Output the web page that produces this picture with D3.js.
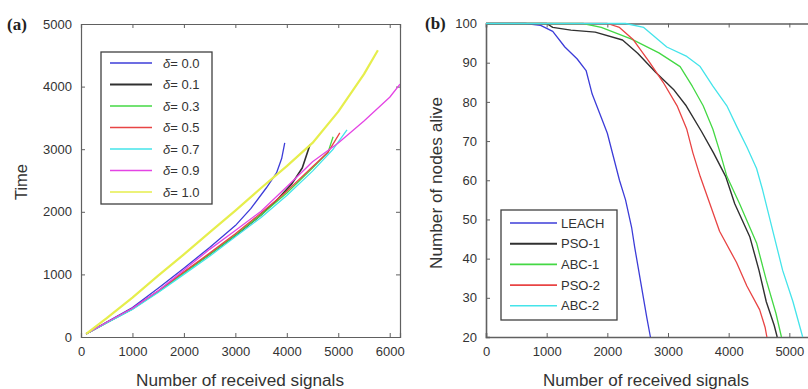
<!DOCTYPE html>
<html><head><meta charset="utf-8">
<script src="https://cdn.jsdelivr.net/npm/d3@7"></script>
<style>
body{margin:0;background:#fff;}
svg{display:block;font-family:"Liberation Sans",Arial,sans-serif;}
</style></head>
<body><svg id="c" width="808" height="389"></svg>
<script>
// ---------- Panel (a) data: Time vs number of received signals ----------
const deltaLabels = ["0.0", "0.1", "0.3", "0.5", "0.7", "0.9", "1.0"];
const deltaColors = ["#3c3cd8", "#303030", "#44d844", "#e84444", "#44e4ea", "#e444e4", "#e6ee4c"];
const d00 = [[100,50],[500,240],[1000,470],[1500,780],[2000,1100],[2500,1430],[3000,1780],[3300,2050],[3600,2380],[3800,2620],[3900,2850],[3960,3100]];
const d01 = [[100,50],[500,230],[1000,450],[1500,730],[2000,1030],[2500,1320],[3000,1620],[3500,1950],[3800,2180],[4100,2450],[4300,2700],[4450,3070]];
const d03 = [[100,50],[500,230],[1000,450],[1500,720],[2000,1020],[2500,1320],[3000,1630],[3500,1950],[4000,2300],[4500,2700],[4800,2950],[4900,3200]];
const d05 = [[100,50],[500,232],[1000,455],[1500,735],[2000,1040],[2500,1340],[3000,1650],[3500,1980],[4000,2330],[4500,2720],[4800,2950],[5030,3260]];
const d07 = [[100,50],[500,225],[1000,440],[1500,710],[2000,1000],[2500,1290],[3000,1600],[3500,1910],[4000,2260],[4500,2650],[4900,3000],[5170,3310]];
const d09 = [[100,50],[500,235],[1000,460],[1500,740],[2000,1070],[2500,1400],[3000,1700],[3500,2010],[4000,2400],[4500,2800],[5000,3100],[5500,3450],[6000,3830],[6200,4040]];
const d10 = [[100,50],[500,300],[1000,630],[1500,980],[2000,1320],[2500,1670],[3000,2020],[3500,2380],[4000,2730],[4500,3100],[5000,3600],[5500,4200],[5770,4580]];
const timeSeries = [d00, d01, d03, d05, d07, d09, d10];
const xTicksA = [0,1000,2000,3000,4000,5000,6000];
const yTicksA = [0,1000,2000,3000,4000,5000];

// ---------- Panel (b) data: Number of nodes alive ----------
const algNames = ["LEACH", "PSO-1", "ABC-1", "PSO-2", "ABC-2"];
const algColors = ["#3c3cd8", "#303030", "#44d844", "#e84444", "#44e4ea"];
const leach = [[0,100],[650,100],[900,99.5],[1100,98],[1300,94],[1500,91],[1650,88],[1750,82],[1900,76],[2000,72],[2100,66],[2200,60],[2300,55],[2400,48],[2450,43],[2550,34],[2650,25],[2710,20]];
const pso1 = [[0,100],[1000,100],[1100,99],[1400,98.3],[1800,97.8],[2250,95.8],[2500,92.4],[2800,87.5],[3100,83],[3300,79],[3550,72.5],[3750,67],[3950,61],[4100,54],[4350,45.5],[4500,37],[4620,29],[4750,23],[4800,20]];
const abc1 = [[0,100],[1600,100],[1900,99],[2400,96],[2850,92.5],[3200,89],[3400,84],[3580,79],[3740,73],[3860,67],[3970,61],[4180,54],[4460,44],[4620,34.5],[4780,26],[4870,20]];
const pso2 = [[0,100],[2000,100],[2200,99],[2420,96],[2700,90],[2920,85],[3150,79],[3310,73],[3410,67],[3530,61],[3690,54],[3850,47],[4130,39],[4300,33],[4510,27],[4600,22.5],[4630,20]];
const abc2 = [[0,100],[2300,100],[2600,99],[2980,94],[3310,91.6],[3530,89],[3740,84],[3970,79],[4140,73.5],[4300,68.5],[4460,63],[4560,57.5],[4680,50],[4890,37],[5060,29],[5220,20]];
const aliveSeries = [leach, pso1, abc1, pso2, abc2];
const xTicksB = [0,1000,2000,3000,4000,5000];
const yTicksB = [20,30,40,50,60,70,80,90,100];

const svg = d3.select("#c");
const frameCol = "#606060", textCol = "#333";

function panel(opt){
  const g = svg.append("g");
  const x = d3.scaleLinear().domain(opt.xDom).range([opt.left, opt.left + opt.xLen]);
  const y = d3.scaleLinear().domain(opt.yDom).range([opt.bottom, opt.top]);
  const right = x.range()[1];
  const clipId = "clip" + opt.id;
  svg.append("clipPath").attr("id", clipId).append("rect")
     .attr("x", opt.left).attr("y", opt.top - 2).attr("width", right - opt.left).attr("height", opt.bottom - opt.top + 4);
  const bAx = d3.axisBottom(x).tickValues(opt.xTicks).tickSize(-4).tickPadding(10).tickFormat(d3.format("d"));
  const tAx = d3.axisTop(x).tickValues(opt.xTicks).tickSize(-4).tickFormat("");
  const lAx = d3.axisLeft(y).tickValues(opt.yTicks).tickSize(-4).tickPadding(9).tickFormat(d3.format("d"));
  const rAx = d3.axisRight(y).tickValues(opt.yTicks).tickSize(-4).tickFormat("");
  const style = s => { s.select(".domain").attr("stroke", frameCol).attr("stroke-width", opt.frameW || 1.2);
    s.selectAll(".tick line").attr("stroke", frameCol);
    s.selectAll(".tick text").attr("fill", textCol).style("font-size", "13px").style("font-family", "'Liberation Sans',Arial,sans-serif"); };
  g.append("g").attr("transform", `translate(0,${opt.bottom})`).call(bAx).call(style);
  g.append("g").attr("transform", `translate(0,${opt.top})`).call(tAx).call(style);
  g.append("g").attr("transform", `translate(${opt.left},0)`).call(lAx).call(style);
  g.append("g").attr("transform", `translate(${right},0)`).call(rAx).call(style);
  const line = d3.line().x(d => x(d[0])).y(d => y(d[1]));
  const lg = g.append("g").attr("clip-path", `url(#${clipId})`);
  opt.series.forEach((s, i) => {
    lg.append("path").datum(s).attr("d", line).attr("fill", "none")
      .attr("stroke", opt.colors[i]).attr("stroke-width", opt.widths[i]).attr("stroke-linejoin", "round");
  });
  return {g, x, y};
}

const A = panel({id:"a", xDom:[0,6200], yDom:[0,5000], left:81, xLen:319, top:24, bottom:337,
  xTicks:xTicksA, yTicks:yTicksA, series:timeSeries, colors:deltaColors, widths:[1.3,1.6,1.3,1.3,1.3,1.3,2.2]});
const B = panel({id:"b", xDom:[0,6000], yDom:[20,100], left:486, xLen:364, top:23.5, bottom:337,
  xTicks:xTicksB, yTicks:yTicksB, series:aliveSeries, colors:algColors, widths:[1.3,1.4,1.3,1.3,1.3,1.3], frameW:1.6});

function title(txt, x, y, rot, len, size){
  const t = svg.append("text").attr("x", x).attr("y", y).attr("text-anchor", "middle")
    .attr("fill", textCol).style("font-size", size + "px").text(txt)
    .attr("textLength", len).attr("lengthAdjust", "spacingAndGlyphs");
  if (rot) t.attr("transform", `rotate(-90,${x},${y})`);
}
title("Number of received signals", 240, 386, false, 208, 16);
title("Number of received signals", 646, 386, false, 206, 16);
title("Time", 27, 182, true, 36, 16);
title("Number of nodes alive", 442, 183, true, 172, 16);

svg.append("text").attr("x", 7).attr("y", 30).style("font-family", "'Liberation Serif','Times New Roman',serif")
  .style("font-weight", "bold").style("font-size", "17px").attr("fill", "#222").text("(a)");
svg.append("text").attr("x", 425).attr("y", 29).style("font-family", "'Liberation Serif','Times New Roman',serif")
  .style("font-weight", "bold").style("font-size", "17px").attr("fill", "#222").text("(b)");

function legend(labels, colors, widths, bx, by, bw, bh, y0, dy, lx0, lx1, tx, isDelta){
  const g = svg.append("g");
  g.append("rect").attr("x", bx).attr("y", by).attr("width", bw).attr("height", bh)
    .attr("fill", "#fff").attr("stroke", "#404040").attr("stroke-width", 1.3);
  labels.forEach((l, i) => {
    const yy = y0 + i * dy;
    g.append("line").attr("x1", lx0).attr("x2", lx1).attr("y1", yy).attr("y2", yy)
      .attr("stroke", colors[i]).attr("stroke-width", widths[i]);
    const t = g.append("text").attr("x", tx).attr("y", yy + 4.5).attr("fill", textCol).style("font-size", "13px");
    if (isDelta) {
      t.append("tspan").style("font-style", "italic").text("δ");
      t.append("tspan").text("= " + l);
    } else t.text(l);
  });
}
legend(deltaLabels, deltaColors, [1.3,2.2,1.3,1.6,1.3,1.3,1.6], 101, 52, 111, 152, 63, 21.5, 110, 152, 163, true);
legend(algNames, algColors, [1.6,2,1.6,1.6,1.6], 501, 210, 116, 110, 223, 20.7, 510, 557, 561, false);
</script></body></html>
